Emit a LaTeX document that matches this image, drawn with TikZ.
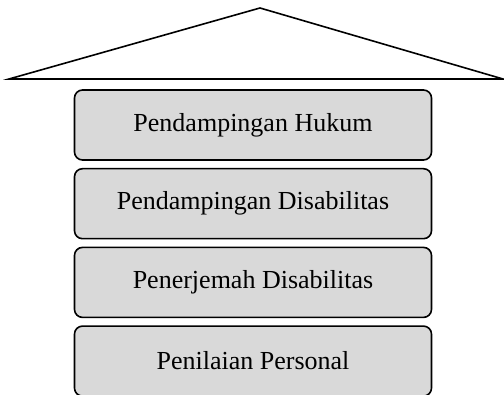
\documentclass[tikz,border=0pt]{standalone}
\usepackage{fontspec}
\setmainfont{Liberation Serif}
\usepackage{tikz}
\usetikzlibrary{calc}
\definecolor{boxgray}{RGB}{217,217,217}

\begin{document}
\begin{tikzpicture}[x=1pt,y=1pt,
		layer/.style={draw,line width=1.6pt,rounded corners=8pt,fill=boxgray,
			minimum width=357pt,minimum height=70pt,inner sep=0pt,
			font=\fontsize{26}{30}\selectfont}]
			\useasboundingbox (0,0) rectangle (504,395);
			% roof
			\coordinate (L) at (9,316);
			\coordinate (R) at (503,316);
			\coordinate (T) at (260,387);
			\draw[line width=1.6pt,line join=miter] (L) -- (T) -- (R) -- cycle;
			% pillars
			\foreach \txt [count=\i] in {Pendampingan Hukum,Pendampingan Disabilitas,Penerjemah Disabilitas,Penilaian Personal} {
				\node[layer] (b\i) at ($(253,270) - (0,{78.7*(\i-1)})$) {\txt};
			}
		\end{tikzpicture}
\end{document}
